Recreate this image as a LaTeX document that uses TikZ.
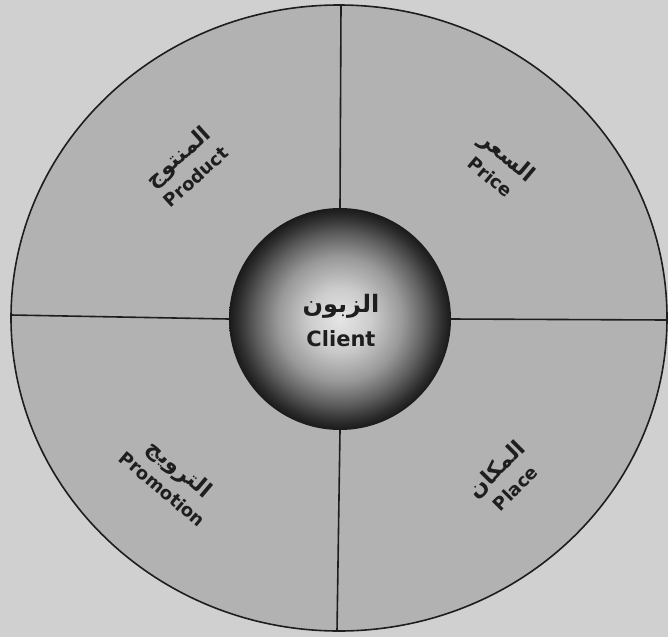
\documentclass[tikz,border=0pt]{standalone}
\usepackage{fontspec}
\setmainfont{DejaVu Sans}
\newfontfamily\arabicfont[Script=Arabic]{DejaVu Sans}
\TeXXeTstate=1
\definecolor{bgcol}{RGB}{208,208,208}
\definecolor{diskcol}{RGB}{178,178,178}
\definecolor{inkcol}{RGB}{30,30,30}
\pgfdeclareradialshading{spheresh}{\pgfpoint{0bp}{0bp}}{color(0bp)=(black!10); color(7bp)=(black!20); color(14bp)=(black!40); color(19bp)=(black!62); color(23bp)=(black!82); color(25bp)=(black!90); color(50bp)=(black!90)}
\begin{document}
\begin{tikzpicture}[x=1pt,y=-1pt,
  disk/.style={fill=diskcol, draw=inkcol, line width=1.6pt},
  sphere/.style={circle, minimum size=222pt, inner sep=0pt, shading=spheresh},
  divider/.style={draw=inkcol, line width=1.6pt},
  lbl/.style={align=center, text=inkcol, font=\bfseries\fontsize{18}{26}\selectfont},
  ctr/.style={align=center, text=inkcol, font=\bfseries\fontsize{21}{34}\selectfont}]
\useasboundingbox (0,0) rectangle (668,637);
\fill[bgcol] (0,0) rectangle (668,637);
\draw[disk] (339,318) ellipse [x radius=328, y radius=313];
\coordinate (top) at (341,5);
\coordinate (bottom) at (337,631);
\coordinate (left) at (11,315);
\coordinate (right) at (667,320);
\node[sphere] (client) at (340,319) {};
\draw[divider] (client.north) -- (top);
\draw[divider] (client.south) -- (bottom);
\draw[divider] (client.west) -- (left);
\draw[divider] (client.east) -- (right);
\node[ctr] (clienttxt) at (341,321) {{\arabicfont\fontsize{24}{30}\selectfont\beginR الزبون\endR}\\Client};
\node[lbl, rotate=42] (product) at (186,166) {{\arabicfont\fontsize{22}{24}\selectfont\beginR المنتوج\endR}\\Product};
\node[lbl, rotate=-40] (price) at (500,166) {{\arabicfont\fontsize{22}{24}\selectfont\beginR السعر\endR}\\Price};
\node[lbl, rotate=-40] (promotion) at (172,478) {{\arabicfont\fontsize{22}{24}\selectfont\beginR الترويج\endR}\\Promotion};
\node[lbl, rotate=45] (place) at (505,478) {{\arabicfont\fontsize{22}{24}\selectfont\beginR المكان\endR}\\Place};
\end{tikzpicture}
\end{document}
